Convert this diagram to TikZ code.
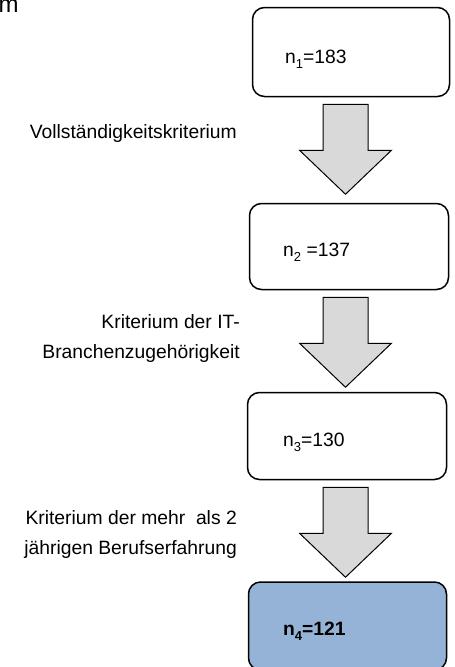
\documentclass[tikz,border=0pt]{standalone}
\usepackage{fontspec}
\setmainfont{Liberation Sans}
\usetikzlibrary{calc}
\definecolor{boxblue}{HTML}{95B3D7}
\definecolor{arrowgray}{HTML}{D9D9D9}
\newcommand{\sbs}[1]{\raisebox{-0.28em}{\fontsize{13}{13}\selectfont #1}}
\newcommand{\blockarrow}[1]{\draw[blk] ($(ax |- #1.south)+(-22.5,7)$) -- ++(45,0) -- ++(0,46) -- ++(23.5,0) -- ++(-46,44) -- ++(-46,-44) -- ++(23.5,0) -- cycle;}
\begin{document}
\begin{tikzpicture}[x=1pt,y=-1pt,
  font=\fontsize{19.3}{30}\selectfont,
  box/.style={draw, line width=1.5pt, rounded corners=12pt, inner sep=0pt},
  txt/.style={inner sep=0pt, anchor=base west},
  lbl/.style={inner sep=0pt, align=right, anchor=base east},
  blk/.style={draw, line width=1pt, fill=arrowgray, line join=miter}]
\clip (0,0) rectangle (455,667);
\coordinate (ax) at (345.5,0);
% boxes
\node[box, minimum width=197pt, minimum height=89pt] (b1) at (351,52) {};
\node[box, minimum width=199pt, minimum height=86pt] (b2) at (349,246.5) {};
\node[box, minimum width=199pt, minimum height=87pt] (b3) at (347,436) {};
\node[box, fill=boxblue, minimum width=198pt, minimum height=88pt] (b4) at (347.5,626) {};
% box texts
\node[txt] (t1) at (285,63) {n\sbs{1}=183};
\node[txt] (t2) at (283,256) {n\sbs{2} =137};
\node[txt] (t3) at (283,446) {n\sbs{3}=130};
\node[txt] (t4) at (283,635) {\bfseries n\sbs{4}=121};
% arrows
\blockarrow{b1}
\blockarrow{b2}
\blockarrow{b3}
% labels
\node[lbl] (l1) at (237,138) {Vollständigkeitskriterium};
\node[lbl] (l2) at (240,358) {Kriterium der IT-\\Branchenzugehörigkeit};
\node[lbl] (l3) at (237,554) {Kriterium der mehr\ \ als 2\\jährigen Berufserfahrung};
\node[txt, font=\fontsize{24}{24}\selectfont] (m) at (-1.5,12.7) {m};
\end{tikzpicture}
\end{document}
